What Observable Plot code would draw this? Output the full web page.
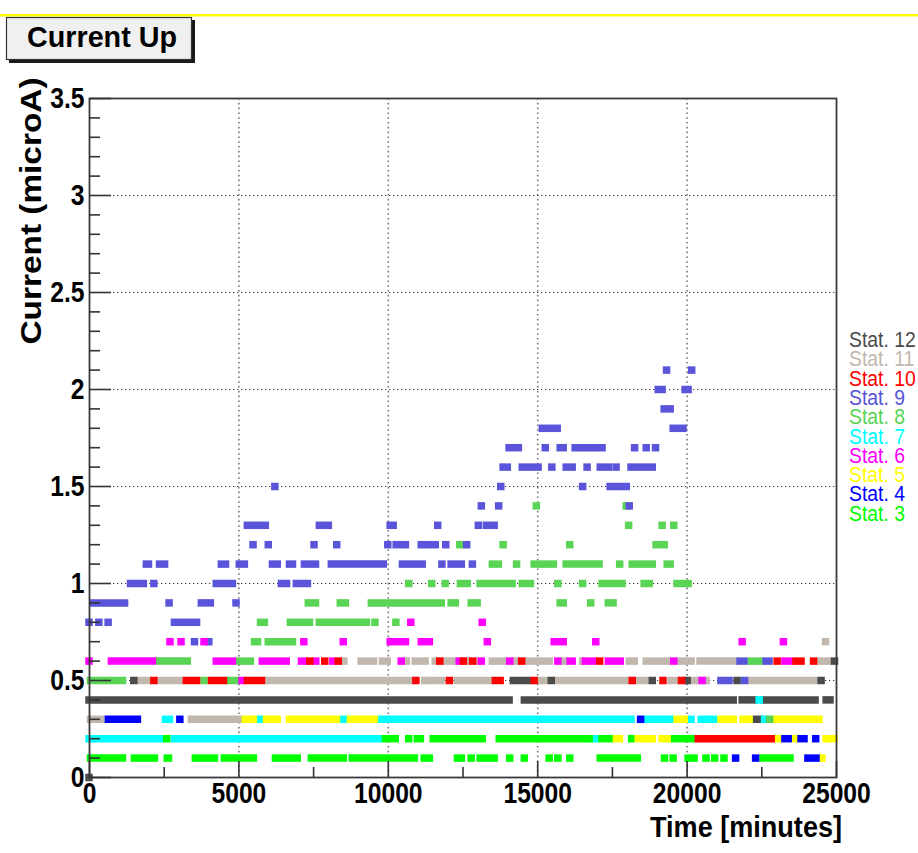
<!DOCTYPE html>
<html><head><meta charset="utf-8">
<script src="https://cdn.jsdelivr.net/npm/d3@7"></script>
<script src="https://cdn.jsdelivr.net/npm/@observablehq/plot@0.6"></script>
<style>
html,body{margin:0;padding:0;background:#fff;overflow:hidden;width:918px;height:853px}
#wrap{position:relative;width:918px;height:853px;overflow:hidden;background:#fff}
#chart{position:absolute;left:0;top:0}
#overlay{position:absolute;left:0;top:0}
</style></head>
<body><div id="wrap"><div id="chart"></div><svg id="overlay" width="918" height="853"></svg></div>
<script>
// ---- data: [level (microA), start (min), end (min)] runs of samples ----
const stat3 = [[0.1,50,1120],[0.1,1520,2190],[0.1,2620,2660],[0.1,3560,4200],[0.1,4530,5500],[0.1,6240,6970],[0.1,7440,8510],[0.1,8810,10890],[0.1,11220,11390],[0.1,12330,12460],[0.1,12790,12790],[0.1,13090,13560],[0.1,14080,14080],[0.1,14570,14570],[0.1,15400,15400],[0.1,15690,15690],[0.1,16090,16090],[0.1,17110,18350],[0.1,19260,19260],[0.1,19550,19550],[0.1,20050,20250],[0.1,20650,20650],[0.1,20940,20940],[0.1,21250,21250],[0.1,22560,23460],
  [0.2,2600,2600],[0.2,9920,10250],[0.2,10700,10700],[0.2,10990,11090],[0.2,11520,13160],[0.2,13730,16740],[0.2,17170,17440],[0.2,18160,18160],[0.2,19580,20150]];
const stat4 = [[0.1,21640,21640],[0.1,22310,22310],[0.1,24060,24330],
  [0.2,23290,23400],[0.2,23830,23930],[0.2,24320,24320],
  [0.3,650,1620],[0.3,3040,3040],[0.3,18460,18460]];
const stat5 = [[0.1,24530,24530],
  [0.2,17650,17750],[0.2,18380,18850],[0.2,19180,19350],[0.2,23060,23060],[0.2,23610,23610],[0.2,24670,24930],
  [0.3,5230,5500],[0.3,5940,6300],[0.3,6710,8280],[0.3,8750,9550],[0.3,19680,19920],[0.3,21150,21560],[0.3,21890,22090],[0.3,22990,24430]];
const stat6 = [[0.5,5120,5120],[0.5,20520,20520],
  [0.6,0,0],[0.6,750,2120],[0.6,4260,4800],[0.6,5800,6600],[0.6,7110,7210],[0.6,7590,7590],[0.6,8160,8160],[0.6,10450,10450],[0.6,12390,12390],[0.6,13130,13130],[0.6,14080,14080],[0.6,15690,15690],[0.6,16100,16170],[0.6,16610,16870],[0.6,17380,17780],[0.6,19570,19570],[0.6,23290,23430],
  [0.7,2710,2710],[0.7,3080,3080],[0.7,3850,3850],[0.7,7190,7190],[0.7,8510,8510],[0.7,10080,10590],[0.7,11120,11390],[0.7,13330,13330],[0.7,15570,15870],[0.7,16960,16960],[0.7,21860,21860],[0.7,23240,23240],
  [0.8,10770,10770],[0.8,13160,13160]];
const stat7 = [[0.2,0,2390],[0.2,2860,9680],[0.2,16940,16940],
  [0.3,2560,2690],[0.3,5720,5720],[0.3,8510,8510],[0.3,9780,18140],[0.3,18680,19450],[0.3,20150,20150],[0.3,20490,20920],[0.3,22610,22610],
  [0.4,22430,22430]];
const stat8 = [[0.3,22780,22780],
  [0.5,50,1120],[0.5,3850,3850],[0.5,4730,4930],
  [0.6,2360,3290],[0.6,5030,5400],[0.6,22160,22430],
  [0.7,5540,5640],[0.7,6000,6810],
  [0.8,5740,5870],[0.8,6740,7380],[0.8,7710,9280],[0.8,9570,9570],[0.8,10270,10270],
  [0.9,7340,7580],[0.9,8410,8580],[0.9,9450,11790],[0.9,12120,12260],[0.9,12790,12990],[0.9,15770,15870],[0.9,16790,16790],[0.9,17380,17540],
  [1.0,10700,10700],[1.0,11470,11470],[1.0,11920,11920],[1.0,12430,12660],[1.0,13090,14160],[1.0,14500,14770],[1.0,15690,15690],[1.0,16520,16520],[1.0,17170,17840],[1.0,18580,18750],[1.0,19680,20050],
  [1.1,13500,13700],[1.1,14310,14310],[1.1,14900,15540],[1.1,15970,17070],[1.1,17760,17760],[1.1,18180,18850],[1.1,19350,19450],
  [1.2,12410,12410],[1.2,13860,13860],[1.2,16090,16090],[1.2,18980,19250],
  [1.3,18060,18060],[1.3,19180,19180],[1.3,19570,19570],
  [1.4,14970,14970],[1.4,17980,17980]];
const stat9 = [[0.5,21150,21420],[0.5,21940,21940],
  [0.6,21790,21920],[0.6,22660,22760],
  [0.7,3530,3530],[0.7,4010,4010],
  [0.8,0,0],[0.8,330,330],[0.8,640,640],[0.8,2860,3600],
  [0.9,150,1190],[0.9,2680,2680],[0.9,3760,4060],[0.9,4920,4920],
  [1.0,1390,1820],[1.0,2170,2170],[1.0,4260,4800],[1.0,6440,6610],[1.0,6940,7310],
  [1.1,1920,1990],[1.1,2360,2530],[1.1,4430,4570],[1.1,5030,5200],[1.1,6140,6300],[1.1,6710,6810],[1.1,7210,7580],[1.1,8110,9850],[1.1,10490,11150],[1.1,11810,11810],[1.1,12120,12460],[1.1,12830,12830],
  [1.2,5490,5490],[1.2,6000,6000],[1.2,7530,7530],[1.2,8290,8290],[1.2,10000,10000],[1.2,10280,10590],[1.2,11120,11590],[1.2,11940,11940],[1.2,12640,12640],
  [1.3,5300,5900],[1.3,7710,8010],[1.3,10080,10180],[1.3,11670,11670],[1.3,13030,13030],[1.3,13300,13560],
  [1.4,13130,13130],[1.4,13710,13710],[1.4,18080,18080],
  [1.5,6220,6220],[1.5,13780,13780],[1.5,16520,16520],[1.5,17440,17980],
  [1.6,13860,14000],[1.6,14500,15030],[1.6,15490,15490],[1.6,15970,16170],[1.6,16670,16670],[1.6,17110,17380],[1.6,17640,17640],[1.6,18140,18850],
  [1.7,14060,14370],[1.7,15270,15270],[1.7,15770,15870],[1.7,16270,17170],[1.7,18260,18260],[1.7,18650,18650],[1.7,18960,18960],
  [1.8,15170,15670],[1.8,19550,19880],
  [1.9,19250,19450],
  [2.0,19050,19180],[2.0,19950,20050],
  [2.1,19330,19330],[2.1,20170,20170]];
const stat10 = [[0.2,20390,22830],
  [0.5,2170,2170],[0.5,3260,3600],[0.5,4100,4500],[0.5,5300,5770],[0.5,10940,10940],[0.5,12060,12060],[0.5,13600,13760],[0.5,14900,14900],[0.5,18180,18180],[0.5,19210,19210],[0.5,19830,19830],
  [0.6,7390,7390],[0.6,7890,7890],[0.6,8340,8340],[0.6,11740,11740],[0.6,12530,12530],[0.6,12840,12840],[0.6,14480,14480],[0.6,17090,17090],[0.6,23030,23030],[0.6,23660,23830],[0.6,24250,24250]];
const stat11 = [[0.3,50,420],[0.3,3430,5000],
  [0.5,1720,1990],[0.5,2360,3030],[0.5,6000,10750],[0.5,11240,11240],[0.5,11420,11790],[0.5,12330,13360],[0.5,15100,15230],[0.5,15700,17980],[0.5,18380,18610],[0.5,19480,19650],[0.5,20250,20350],[0.5,20650,20650],[0.5,22160,24260],
  [0.6,8530,8530],[0.6,9110,9520],[0.6,9820,9980],[0.6,10620,10620],[0.6,10920,11250],[0.6,11590,11590],[0.6,11920,12190],[0.6,12680,12680],[0.6,13010,13010],[0.6,13500,13860],[0.6,14280,14280],[0.6,14700,15400],[0.6,15870,15870],[0.6,16520,16520],[0.6,18080,18250],[0.6,18650,19350],[0.6,19780,20150],[0.6,20450,21560],[0.6,24470,24730],
  [0.7,24650,24650]];
const stat12 = [[0,0,0],
  [0.3,22330,22430],
  [0.4,0,14060],[0.4,14570,21560],[0.4,21860,22260],[0.4,22590,24300],[0.4,24670,24800],
  [0.5,1500,1500],[0.5,14200,14700],[0.5,15470,15470],[0.5,18850,18850],[0.5,20020,20020],[0.5,21690,21690],[0.5,24500,24500],
  [0.6,24950,24950]];

const seriesNames  = ["Stat. 12","Stat. 11","Stat. 10","Stat. 9","Stat. 8","Stat. 7","Stat. 6","Stat. 5","Stat. 4","Stat. 3"];
const seriesColors = ["#4b4b4b","#c1b7ad","#ff0000","#5954d9","#59d454","#00ffff","#ff00ff","#ffff00","#0000ff","#00ff00"];
const seriesRuns   = [stat12, stat11, stat10, stat9, stat8, stat7, stat6, stat5, stat4, stat3];
const drawOrder    = [1, 0, 5, 9, 7, 4, 3, 6, 2, 8];

const yMajor = [0,0.5,1,1.5,2,2.5,3,3.5];
const yMinor = [0.1,0.2,0.3,0.4,0.6,0.7,0.8,0.9,1.1,1.2,1.3,1.4,1.6,1.7,1.8,1.9,2.1,2.2,2.3,2.4,2.6,2.7,2.8,2.9,3.1,3.2,3.3,3.4];
const xMajor = [0,5000,10000,15000,20000,25000];
const xMinor = [2500,7500,12500,17500,22500];
const xGrid = [5000,10000,15000,20000];
const yGrid = [0.5,1,1.5,2,2.5,3];

const titleText = "Current Up";
const xLabel = "Time [minutes]";
const yLabel = "Current (microA)";

// ---- layout ----
const W = 918, H = 853, mL = 89, mR = 82, mT = 98, mB = 76;
const plotW = W - mL - mR, plotH = H - mT - mB;
const FONT = "'Liberation Sans', Arial, Helvetica, sans-serif";

const marks = [
  Plot.ruleX(xGrid, {x: d => d, stroke: "#777", strokeWidth: 1.6, strokeDasharray: "1.6,3.2"}),
  Plot.ruleY(yGrid, {y: d => d, stroke: "#333", strokeWidth: 1.2, strokeDasharray: "1.2,2.8"})
];
for (const i of drawOrder) {
  marks.push(Plot.ruleY(seriesRuns[i], {
    y: d => d[0], x1: d => d[1], x2: d => d[2],
    stroke: seriesColors[i], strokeWidth: 7.5, strokeLinecap: "square"
  }));
}
marks.push(
  Plot.frame({stroke: "#3a3a3a", strokeWidth: 1.8}),
  Plot.tickY(yMinor, {y: d => d, insetRight: plotW - 11, stroke: "#333", strokeWidth: 1.6}),
  Plot.tickY(yMajor, {y: d => d, insetRight: plotW - 22, stroke: "#333", strokeWidth: 1.6}),
  Plot.tickX(xMinor, {x: d => d, insetTop: plotH - 10, stroke: "#333", strokeWidth: 1.6}),
  Plot.tickX(xMajor, {x: d => d, insetTop: plotH - 16, stroke: "#333", strokeWidth: 1.6}),
  Plot.axisY(yMajor, {tickSize: 0, tickPadding: 5, tickFormat: d => String(d), fontSize: 29, fontWeight: "bold", fill: "#000", label: null}),
  Plot.axisX(xMajor, {tickSize: 0, tickPadding: 5, tickFormat: d => String(d), fontSize: 29, fontWeight: "bold", fill: "#000", label: null})
);

const chart = Plot.plot({
  width: W, height: H,
  marginLeft: mL, marginRight: mR, marginTop: mT, marginBottom: mB,
  x: {domain: [0, 25000]},
  y: {domain: [0, 3.5]},
  style: {fontFamily: FONT, background: "#fff", overflow: "visible"},
  marks
});
document.getElementById("chart").appendChild(chart);

// condense tick labels (ROOT bitmap Helvetica is narrow)
d3.select(chart).selectAll('g[aria-label="y-axis tick label"] text, g[aria-label="x-axis tick label"] text')
  .each(function() {
    const t = this.getAttribute("transform") || "";
    this.setAttribute("transform", t + " scale(0.85,1)");
  });

// ---- overlay: title box, axis titles, legend ----
const ov = d3.select("#overlay");
ov.append("rect").attr("x", 0).attr("y", 14).attr("width", W).attr("height", 2.5).attr("fill", "#ffff00");
ov.append("rect").attr("x", 9).attr("y", 20).attr("width", 186).attr("height", 43).attr("fill", "#1a1a1a");
ov.append("rect").attr("x", 6.5).attr("y", 17.5).attr("width", 185).attr("height", 42).attr("fill", "#f0f0f0").attr("stroke", "#333").attr("stroke-width", 1.2);
ov.append("text").attr("x", 27).attr("y", 47).attr("font-family", FONT).attr("font-weight", "bold").attr("font-size", 30)
  .attr("textLength", 150).attr("lengthAdjust", "spacingAndGlyphs").attr("fill", "#000").text(titleText);

ov.append("text").attr("transform", "translate(41,211) rotate(-90)").attr("text-anchor", "middle")
  .attr("font-family", FONT).attr("font-weight", "bold").attr("font-size", 30)
  .attr("textLength", 267).attr("lengthAdjust", "spacingAndGlyphs").attr("fill", "#000").text(yLabel);

ov.append("text").attr("x", 842).attr("y", 837).attr("text-anchor", "end")
  .attr("font-family", FONT).attr("font-weight", "bold").attr("font-size", 30)
  .attr("textLength", 192).attr("lengthAdjust", "spacingAndGlyphs").attr("fill", "#000").text(xLabel);

seriesNames.forEach((name, i) => {
  ov.append("text").attr("transform", `translate(849,${347 + 19.3 * i}) scale(0.88,1)`)
    .attr("font-family", FONT).attr("font-size", 22).attr("fill", seriesColors[i]).text(name);
});
</script></body></html>
